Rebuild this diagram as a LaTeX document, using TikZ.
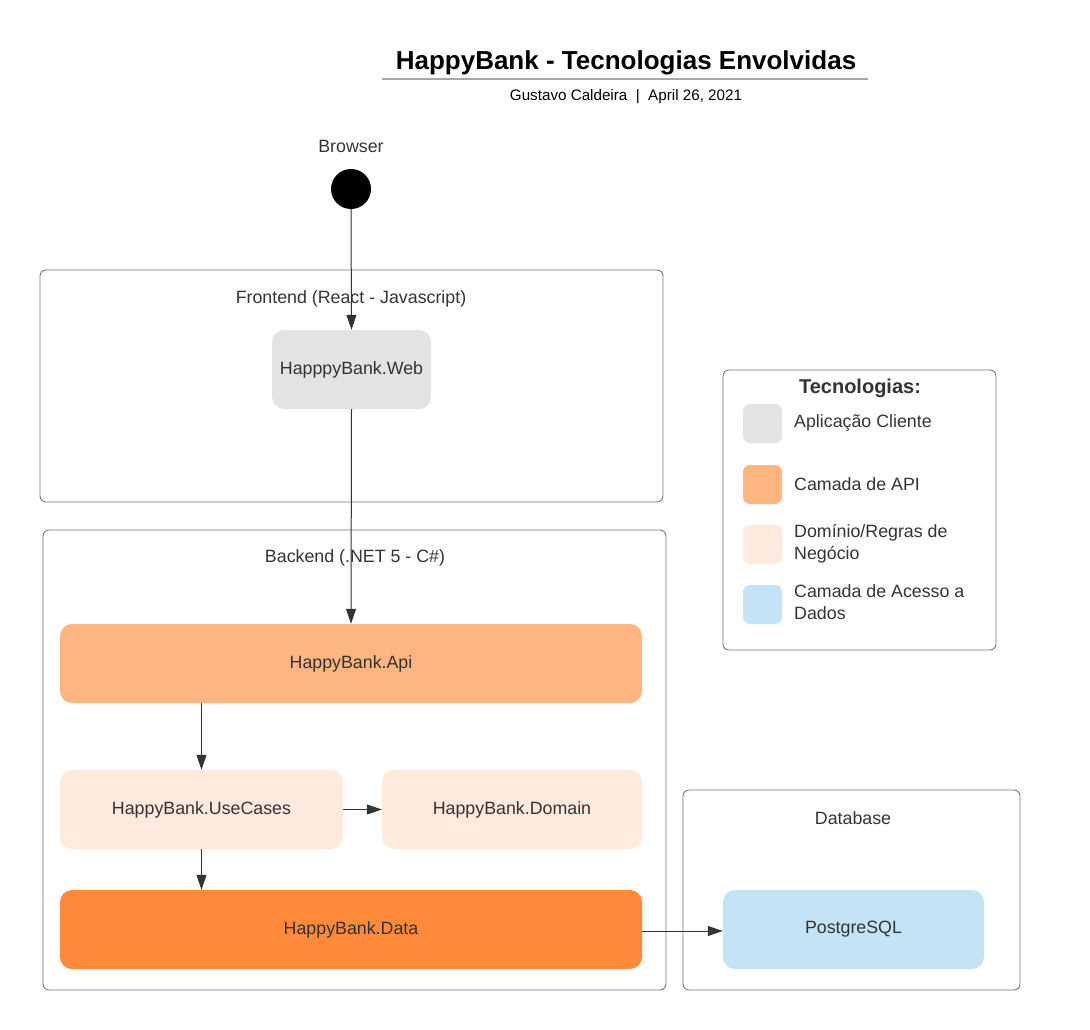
\documentclass[tikz,border=0pt]{standalone}
\usepackage{fontspec}
\setmainfont{Liberation Sans}
\usetikzlibrary{arrows.meta}
\definecolor{txt}{HTML}{333333}
\definecolor{frame}{HTML}{777777}
\definecolor{cgray}{HTML}{E3E3E3}
\definecolor{capi}{HTML}{FFB580}
\definecolor{cdom}{HTML}{FFEADD}
\definecolor{cdata}{HTML}{FF8A3A}
\definecolor{cdb}{HTML}{C4E4F6}
\definecolor{uline}{HTML}{A3A7AF}
\tikzset{
  container/.style={draw=frame, line width=0.9pt, rounded corners=6pt},
  block/.style={rounded corners=12pt, draw=none, text=txt, font=\fontsize{17.8}{22}\selectfont},
  lbl/.style={text=txt, font=\fontsize{17.8}{22}\selectfont},
  swatch/.style={rounded corners=7pt, draw=none, minimum width=39pt, minimum height=39pt, inner sep=0pt},
  conn/.style={draw=txt, line width=1pt, -{Triangle[length=15pt,width=10pt]}},
}
\begin{document}
\begin{tikzpicture}[x=1pt,y=-1pt]
\useasboundingbox (0,0) rectangle (1090,1030);
% title
\node[font=\bfseries\fontsize{26}{30}\selectfont] (title) at (626,63) {HappyBank - Tecnologias Envolvidas};
\draw[uline, line width=1.5pt] (382,79) -- (868,79);
\node[font=\fontsize{15.2}{18}\selectfont] (sub) at (626,97) {Gustavo Caldeira\ \ |\ \ April 26, 2021};
% browser
\node[lbl] (browserlbl) at (351,146) {Browser};
\node[circle, fill=black, minimum size=40pt, inner sep=0pt] (browser) at (351,189) {};
% containers
\draw[container] (40,270) rectangle (663,502);
\node[lbl] (felbl) at (351,299) {Frontend (React - Javascript)};
\draw[container] (43,530) rectangle (666,990);
\node[lbl] (belbl) at (355,558) {Backend (.NET 5 - C\#)};
\draw[container] (683,790) rectangle (1020,990);
\node[lbl] (dblbl) at (853,818) {Database};
% blocks
\node[block, fill=cgray, minimum width=159pt, minimum height=79pt] (web) at (351.5,369.5) {HapppyBank.Web};
\node[block, fill=capi, minimum width=582pt, minimum height=79pt] (api) at (351,663.5) {HappyBank.Api};
\node[block, fill=cdom, minimum width=283pt, minimum height=79pt] (uc) at (201.5,809.5) {HappyBank.UseCases};
\node[block, fill=cdom, minimum width=260pt, minimum height=79pt] (dom) at (512,809.5) {HappyBank.Domain};
\node[block, fill=cdata, minimum width=582pt, minimum height=79pt] (data) at (351,929.5) {HappyBank.Data};
\node[block, fill=cdb, minimum width=261pt, minimum height=79pt] (pg) at (853.5,929.5) {PostgreSQL};
% connectors
\draw[conn] (browser.south) -- (web.north);
\draw[conn] (web.south) -- (api.north);
\draw[conn] (api.south -| uc.north) -- (uc.north);
\draw[conn] (uc.east) -- (dom.west);
\draw[conn] (uc.south) -- (uc.south |- data.north);
\coordinate (dataout) at (642,931);
\draw[conn] (dataout) -- (dataout -| pg.west);
% legend
\draw[container] (723,370) rectangle (996,650);
\node[font=\bfseries\fontsize{20}{24}\selectfont, text=txt] (legtitle) at (860,388) {Tecnologias:};
\node[swatch, fill=cgray] (s1) at (762.5,423.5) {};
\node[swatch, fill=capi] (s2) at (762.5,484.5) {};
\node[swatch, fill=cdom] (s3) at (762.5,544.5) {};
\node[swatch, fill=cdb] (s4) at (762.5,604.5) {};
\node[lbl, anchor=west, inner sep=0pt] (l1) at (794,423) {Aplicação Cliente};
\node[lbl, anchor=west, inner sep=0pt] (l2) at (794,484) {Camada de API};
\node[lbl, anchor=west, inner sep=0pt, align=left] (l3) at (794,544) {Domínio/Regras de\\Negócio};
\node[lbl, anchor=west, inner sep=0pt, align=left] (l4) at (794,602) {Camada de Acesso a\\Dados};
\end{tikzpicture}
\end{document}
